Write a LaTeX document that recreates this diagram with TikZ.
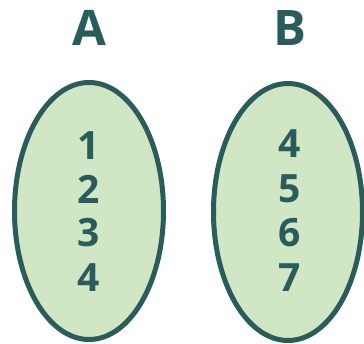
\documentclass[tikz,border=0pt]{standalone}
\usepackage{fontspec}
\setmainfont{Open Sans}
\usepackage{tikz}
\usetikzlibrary{shapes.geometric}
\definecolor{setline}{HTML}{2A5C5B}
\definecolor{setfill}{HTML}{D1E6C4}

\begin{document}
\begin{tikzpicture}[x=1pt,y=-1pt,
        setshape/.style={ellipse,draw=setline,fill=setfill,line width=5pt,minimum width=149pt,minimum height=257pt,inner sep=0pt},
        elem/.style={text=setline,font=\fontsize{39}{39}\selectfont\bfseries,inner sep=0pt},
        setname/.style={text=setline,font=\fontsize{49}{49}\selectfont\bfseries,inner sep=0pt}]
        \useasboundingbox (0,0) rectangle (364,344);
        \node[setshape] (setA) at (89,211) {};
        \node[setshape] (setB) at (288,212) {};
        \node[setname] (nameA) at (89,28) {A};
        \node[setname] (nameB) at (290,28) {B};
        % elements of A
        \node[elem] (a1) at (89,146) {1};
        \node[elem] (a2) at (89,189) {2};
        \node[elem] (a3) at (89,233) {3};
        \node[elem] (a4) at (89,278) {4};
        % elements of B
        \node[elem] (b4) at (290,144) {4};
        \node[elem] (b5) at (290,189) {5};
        \node[elem] (b6) at (290,233) {6};
        \node[elem] (b7) at (290,278) {7};
    \end{tikzpicture}
\end{document}
